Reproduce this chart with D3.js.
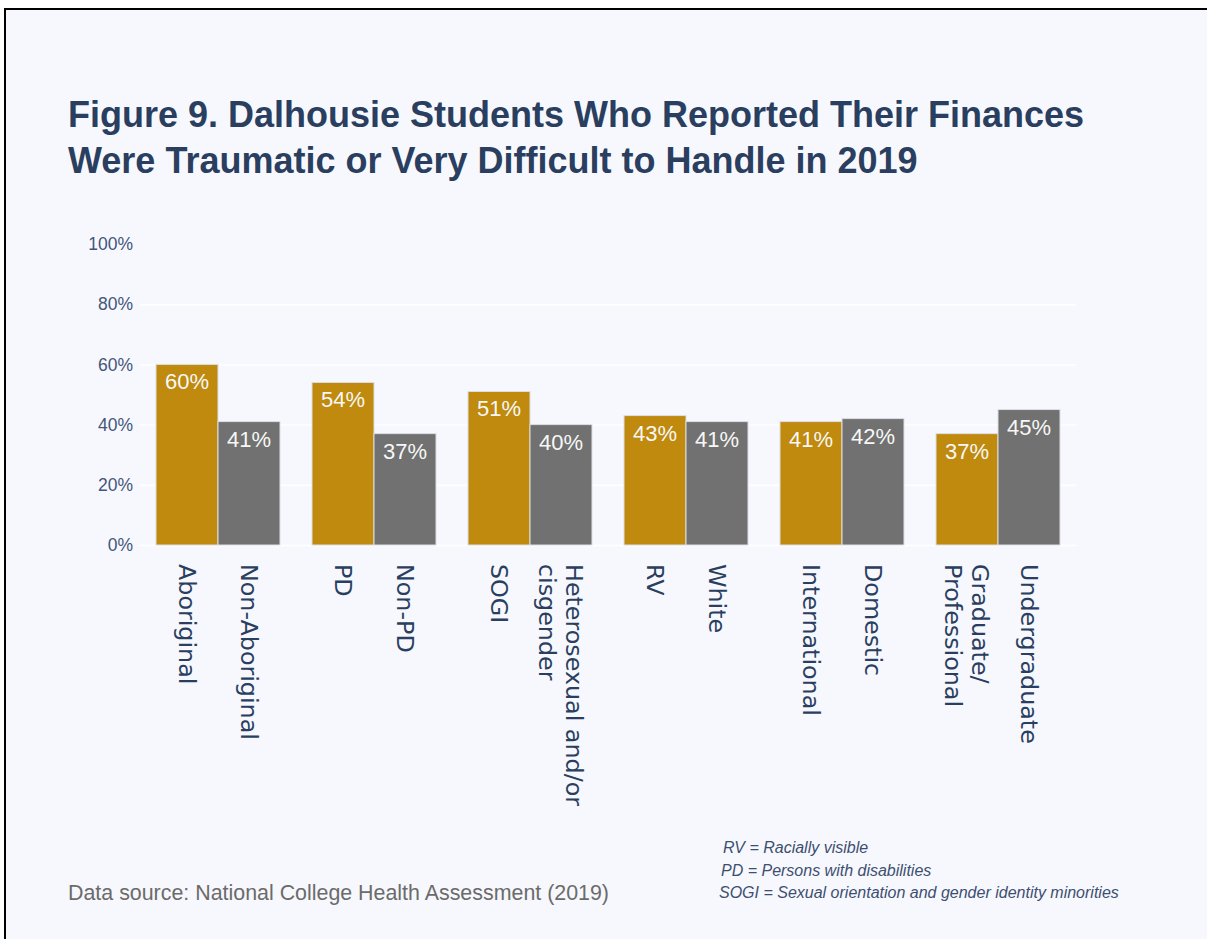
<!DOCTYPE html>
<html>
<head>
<meta charset="utf-8">
<script src="https://cdn.jsdelivr.net/npm/d3@7"></script>
<style>
  html, body { margin: 0; padding: 0; background: #ffffff; }
  svg { display: block; }
</style>
</head>
<body>
<div id="chart"></div>
<script>
// Chart data
const titleLines = [
  "Figure 9. Dalhousie Students Who Reported Their Finances",
  "Were Traumatic or Very Difficult to Handle in 2019"
];
const groups = ["aboriginal", "pd", "sogi", "rv", "international", "graduate"];
const firstLabels = ["Aboriginal", "PD", "SOGI", "RV", "International", "Graduate/\nProfessional"];
const secondLabels = ["Non-Aboriginal", "Non-PD", "Heterosexual and/or\ncisgender", "White", "Domestic", "Undergraduate"];
const firstValues = [60, 54, 51, 43, 41, 37];
const secondValues = [41, 37, 40, 41, 42, 45];
const yTicks = [0, 20, 40, 60, 80, 100];
const sourceText = "Data source: National College Health Assessment (2019)";
const notes = [
  "RV = Racially visible",
  "PD = Persons with disabilities",
  "SOGI = Sexual orientation and gender identity minorities"
];

const width = 1207, height = 939;
const colors = { first: "#bf8a0d", second: "#707170" };
const textColor = "#2a3f5f";

const svg = d3.select("#chart")
  .append("svg")
  .attr("width", width)
  .attr("height", height);

// page background with the black frame (top and left edges visible)
svg.append("rect")
  .attr("x", 5).attr("y", 9)
  .attr("width", width + 20).attr("height", height + 20)
  .attr("fill", "#f7f8fd")
  .attr("stroke", "#000")
  .attr("stroke-width", 2);

// title
const title = svg.append("text")
  .attr("font-family", "Arial, 'Liberation Sans', sans-serif")
  .attr("font-size", "36px")
  .attr("font-weight", "bold")
  .attr("fill", textColor);
titleLines.forEach((line, i) => {
  title.append("tspan").attr("x", 68).attr("y", 127 + i * 46).text(line);
});

// scales
const x0 = d3.scaleBand()
  .domain(groups)
  .range([140, 1076])
  .paddingInner(32 / 156)
  .paddingOuter(16 / 156);

const x1 = d3.scaleBand()
  .domain(["first", "second"])
  .range([0, x0.bandwidth()]);

const y = d3.scaleLinear()
  .domain([0, 100])
  .range([545, 244]);

// y axis + gridlines
const yAxis = svg.append("g")
  .attr("transform", "translate(140,0)")
  .call(d3.axisLeft(y)
    .tickValues(yTicks)
    .tickFormat(d => d + "%")
    .tickSize(-(1076 - 140))
    .tickPadding(7));

yAxis.select(".domain").remove();
yAxis.selectAll(".tick line")
  .attr("stroke", "#ffffff")
  .attr("stroke-width", 1.5)
  .attr("display", d => d === 100 ? "none" : null);
yAxis.selectAll(".tick text")
  .attr("font-family", "Arial, 'Liberation Sans', sans-serif")
  .attr("font-size", "17.5px")
  .attr("fill", "#44557a");

// flatten to one row per bar
const bars = [];
groups.forEach((g, i) => {
  bars.push({ group: g, key: "first", value: firstValues[i], label: firstLabels[i] });
  bars.push({ group: g, key: "second", value: secondValues[i], label: secondLabels[i] });
});

const barG = svg.append("g");

barG.selectAll("rect")
  .data(bars)
  .enter()
  .append("rect")
  .attr("x", d => x0(d.group) + x1(d.key))
  .attr("y", d => y(d.value))
  .attr("width", x1.bandwidth())
  .attr("height", d => y(0) - y(d.value))
  .attr("fill", d => colors[d.key])
  .attr("stroke", "#dcdee6")
  .attr("stroke-width", 1);

// value labels inside the bar tops
barG.selectAll(".value-label")
  .data(bars)
  .enter()
  .append("text")
  .attr("class", "value-label")
  .attr("x", d => x0(d.group) + x1(d.key) + x1.bandwidth() / 2)
  .attr("y", d => y(d.value) + 25)
  .attr("text-anchor", "middle")
  .attr("font-family", "Arial, 'Liberation Sans', sans-serif")
  .attr("font-size", "22px")
  .attr("fill", "#f7f7f7")
  .text(d => d.value + "%");

// category labels, rotated 90 degrees
const lineHeight = 27;
barG.selectAll(".cat-label")
  .data(bars)
  .enter()
  .append("text")
  .attr("class", "cat-label")
  .attr("transform", d => {
    const cx = x0(d.group) + x1(d.key) + x1.bandwidth() / 2;
    return `translate(${cx},564) rotate(90)`;
  })
  .attr("font-family", "'DejaVu Sans', Verdana, sans-serif")
  .attr("font-size", "23.8px")
  .attr("fill", textColor)
  .each(function (d) {
    const lines = d.label.split("\n");
    const t = d3.select(this);
    lines.forEach((line, i) => {
      t.append("tspan")
        .attr("x", 0)
        .attr("y", (i - (lines.length - 1) / 2) * lineHeight + 8.3)
        .text(line);
    });
  });

// data source
svg.append("text")
  .attr("x", 68)
  .attr("y", 900)
  .attr("font-family", "Arial, 'Liberation Sans', sans-serif")
  .attr("font-size", "21.4px")
  .attr("fill", "#6b6b6b")
  .text(sourceText);

// abbreviation notes
const noteX = [723, 721, 719];
svg.append("g")
  .selectAll("text")
  .data(notes)
  .enter()
  .append("text")
  .attr("x", (d, i) => noteX[i])
  .attr("y", (d, i) => 853 + i * 22.5)
  .attr("font-family", "Arial, 'Liberation Sans', sans-serif")
  .attr("font-size", "16px")
  .attr("font-style", "italic")
  .attr("fill", "#3d4f70")
  .text(d => d);
</script>
</body>
</html>
